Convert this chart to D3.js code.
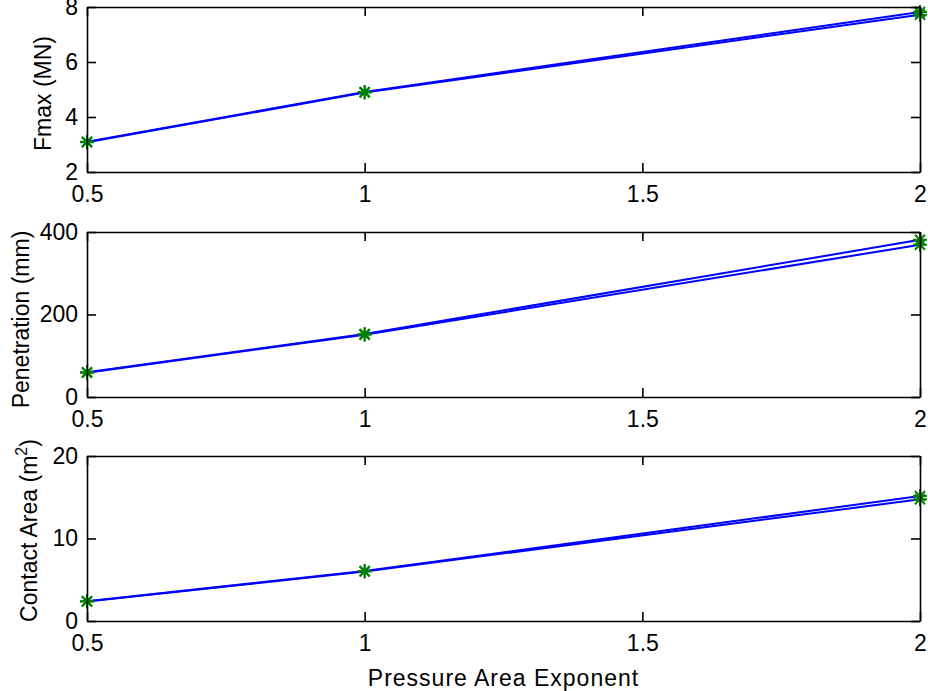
<!DOCTYPE html>
<html><head><meta charset="utf-8">
<script src="https://cdn.jsdelivr.net/npm/d3@7"></script>
<style>body{margin:0;background:#fff}svg{display:block}text{font-family:"Liberation Sans",Arial,sans-serif;fill:#000}</style>
</head><body><svg id="c" width="928" height="691"></svg>
<script>
const xValues = [0.5, 1, 2];
const xTicks = [0.5, 1, 1.5, 2];
const fmaxA = [3.1, 4.91, 7.82];
const fmaxB = [3.08, 4.89, 7.72];
const penA = [60, 153, 381];
const penB = [59, 151, 369];
const areaA = [2.4, 6.05, 15.15];
const areaB = [2.35, 6.0, 14.75];
const panels = [
  {label:"Fmax (MN)", domain:[2,8], ticks:[2,4,6,8], series:[fmaxA,fmaxB], top:7, labelX:45, labelDy:4},
  {label:"Penetration (mm)", domain:[0,400], ticks:[0,200,400], series:[penA,penB], top:232, labelX:23, labelDy:5},
  {label:"Contact Area (m", sup:"2", domain:[0,20], ticks:[0,10,20], series:[areaA,areaB], top:456, labelX:31, labelDy:-8}
];
const xTitle = "Pressure Area Exponent";

const svg = d3.select("#c");
const L = 87, R = 920, H = 165;
const x = d3.scaleLinear().domain([0.5,2]).range([L,R]);
const fs = 23;

panels.forEach(p => {
  const y = d3.scaleLinear().domain(p.domain).range([p.top+H, p.top]);
  const g = svg.append("g");
  const line = d3.line().x((d,i)=>x(xValues[i])).y(d=>y(d));
  p.series.forEach(s => {
    g.append("path").attr("d", line(s)).attr("fill","none").attr("stroke","#0000ff").attr("stroke-width",2);
  });
  p.series.forEach(s => {
    s.forEach((v,i) => {
      const cx = x(xValues[i]), cy = y(v), r = 7, d = r*0.72;
      g.append("path").attr("d",`M${cx-r},${cy}H${cx+r}M${cx},${cy-r}V${cy+r}M${cx-d},${cy-d}L${cx+d},${cy+d}M${cx-d},${cy+d}L${cx+d},${cy-d}`)
        .attr("stroke","#008000").attr("stroke-width",2).attr("fill","none");
    });
  });
  const yAxisL = d3.axisLeft(y).tickValues(p.ticks).tickSize(-9).tickPadding(9).tickFormat(d3.format("d"));
  const yAxisR = d3.axisRight(y).tickValues(p.ticks).tickSize(-9).tickFormat("");
  const xAxisB = d3.axisBottom(x).tickValues(xTicks).tickSize(-9).tickPadding(14).tickFormat(d=>String(d));
  const xAxisT = d3.axisTop(x).tickValues(xTicks).tickSize(-9).tickFormat("");
  const style = sel => {
    sel.selectAll("path.domain").attr("stroke","#000").attr("stroke-width",1.6);
    sel.selectAll(".tick line").attr("stroke","#000").attr("stroke-width",1.6);
    sel.selectAll(".tick text").attr("font-size",fs).attr("font-family","Liberation Sans, Arial, sans-serif").attr("fill","#000");
  };
  svg.append("g").attr("transform",`translate(${L},0)`).call(yAxisL.tickSizeOuter(0)).call(style);
  svg.append("g").attr("transform",`translate(${R},0)`).call(yAxisR.tickSizeOuter(0)).call(style);
  svg.append("g").attr("transform",`translate(0,${p.top+H})`).call(xAxisB.tickSizeOuter(0)).call(style);
  svg.append("g").attr("transform",`translate(0,${p.top})`).call(xAxisT.tickSizeOuter(0)).call(style);
  const t = svg.append("text").attr("transform",`translate(${p.labelX},${p.top+H/2+p.labelDy}) rotate(-90)`)
    .attr("text-anchor","middle").attr("dominant-baseline","middle").attr("font-size",fs).text(p.label);
  if (p.sup) {
    t.append("tspan").attr("baseline-shift","super").attr("font-size",16).text(p.sup);
    t.append("tspan").text(")");
  }
});
svg.append("text").attr("x",(L+R)/2).attr("y",686).attr("text-anchor","middle").attr("font-size",fs).attr("letter-spacing",1).text(xTitle);
</script></body></html>
